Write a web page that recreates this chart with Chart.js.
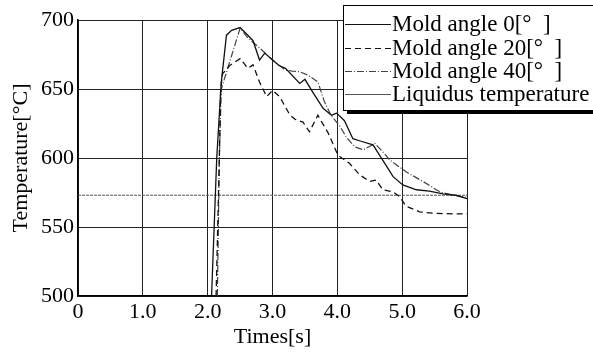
<!DOCTYPE html>
<html>
<head>
<meta charset="utf-8">
<script src="https://cdn.jsdelivr.net/npm/chart.js@4.4.0/dist/chart.umd.min.js"></script>
<style>
  html, body { margin: 0; padding: 0; background: #fff; }
  #wrap { width: 593px; height: 354px; }
</style>
</head>
<body>
<div id="wrap"><canvas id="c" width="593" height="354"></canvas></div>
<script>
// temperature traces: time [s] / temperature [°C]
const time0 = [2.06, 2.14, 2.21, 2.29, 2.37, 2.5, 2.62, 2.7, 2.8, 2.88, 3.0, 3.1, 3.2, 3.42, 3.5, 3.63, 3.78, 3.91, 3.99, 4.11, 4.24, 4.34, 4.55, 4.7, 4.86, 5.01, 5.22, 5.42, 5.63, 5.83, 6.0];
const temp0 = [500, 600, 655, 689, 692.5, 694.5, 689, 685, 671, 676, 671, 667, 665, 654, 657, 647, 636, 631, 632.5, 627, 614, 612.5, 609.5, 598.5, 586.5, 580.5, 577, 576, 574, 573, 570.5];

const time20 = [2.13, 2.18, 2.2, 2.23, 2.34, 2.5, 2.62, 2.7, 2.8, 2.91, 3.0, 3.11, 3.27, 3.35, 3.47, 3.57, 3.7, 3.76, 3.86, 4.01, 4.19, 4.34, 4.5, 4.6, 4.7, 4.86, 4.96, 5.06, 5.27, 5.47, 5.78, 6.0];
const temp20 = [500, 600, 650, 661, 667, 672, 665, 667.5, 655, 644.5, 649, 644.5, 631, 628, 626, 619, 631, 626, 618, 602, 596, 588, 583, 584, 577, 575.5, 572, 565, 561, 560, 559.5, 559.5];

const time40 = [2.15, 2.18, 2.21, 2.5, 2.62, 2.77, 2.91, 3.03, 3.19, 3.3, 3.42, 3.55, 3.7, 3.8, 3.9, 4.04, 4.14, 4.27, 4.4, 4.58, 4.7, 4.81, 5.06, 5.32, 5.58, 5.78, 6.0];
const temp40 = [500, 600, 650, 694, 687, 681, 675, 670, 664, 663, 662.5, 660, 655, 641, 631, 623, 615, 608, 606, 610.5, 604.5, 598.5, 590, 583, 575.5, 573, 571.5];

const liquidusTime = [0, 6];
const liquidusTemp = [573, 573];

const labels = ["Mold angle 0[°\u2002]", "Mold angle 20[°\u2002]", "Mold angle 40[°\u2002]", "Liquidus temperature"];

const xy = (ts, vs) => ts.map((t, i) => ({ x: t, y: vs[i] }));
const SERIF = "'Liberation Serif', 'Times New Roman', serif";

// legend box sits over the top-right of the plot, with a heavy drop shadow
const overlayLegend = {
  id: "overlayLegend",
  afterDraw(chart) {
    const ctx = chart.ctx;
    const bx = 343, by = 5, bw = 262, bh = 105;
    ctx.save();
    ctx.fillStyle = "#000";
    ctx.fillRect(bx + 4, by + bh, bw, 4);
    ctx.fillStyle = "#fff";
    ctx.fillRect(bx, by, bw, bh);
    ctx.strokeStyle = "#000";
    ctx.lineWidth = 1;
    ctx.strokeRect(bx + 0.5, by + 0.5, bw, bh);
    const rows = [24, 48, 71, 94];
    ctx.font = "23px " + SERIF;
    ctx.textBaseline = "middle";
    chart.data.datasets.forEach((ds, i) => {
      const y = rows[i] + 0.5;
      ctx.strokeStyle = ds.borderColor;
      ctx.lineWidth = 1.2;
      ctx.setLineDash(i === 3 ? [] : (ds.borderDash || []));
      ctx.beginPath();
      ctx.moveTo(345, y);
      ctx.lineTo(391, y);
      ctx.stroke();
      ctx.setLineDash([]);
      ctx.fillStyle = "#000";
      ctx.fillText(ds.label, 392, rows[i] + 1);
    });
    ctx.restore();
  }
};

new Chart(document.getElementById("c"), {
  type: "line",
  data: {
    datasets: [
      { label: labels[0], data: xy(time0, temp0), borderColor: "#111", borderWidth: 1.3 },
      { label: labels[1], data: xy(time20, temp20), borderColor: "#111", borderWidth: 1.3, borderDash: [6, 4] },
      { label: labels[2], data: xy(time40, temp40), borderColor: "#444", borderWidth: 1.2, borderDash: [7, 2, 1, 2] },
      { label: labels[3], data: xy(liquidusTime, liquidusTemp), borderColor: "#555", borderWidth: 1, borderDash: [3, 1] },
    ],
  },
  options: {
    responsive: false,
    animation: false,
    layout: { padding: { top: 20, right: 126, left: 0, bottom: 0 } },
    elements: { point: { radius: 0 }, line: { tension: 0, fill: false } },
    scales: {
      x: {
        type: "linear", min: 0, max: 6,
        afterFit: (s) => { s.height = 58; },
        ticks: {
          stepSize: 1, color: "#000", padding: 3, maxRotation: 0,
          font: { family: SERIF, size: 22 },
          callback: (v) => (v === 0 ? "0" : v.toFixed(1)),
        },
        grid: { color: "#222", lineWidth: 1, drawTicks: false },
        border: { color: "#000", width: 1.5 },
        title: { display: true, text: "Times[s]", color: "#000", font: { family: SERIF, size: 22 }, padding: { top: 0, bottom: 4 } },
      },
      y: {
        min: 500, max: 700,
        afterFit: (s) => { s.width = 78; },
        ticks: { stepSize: 50, color: "#000", padding: 4, font: { family: SERIF, size: 22 } },
        grid: { color: "#222", lineWidth: 1, drawTicks: false },
        border: { color: "#000", width: 1.5 },
        title: { display: true, text: "Temperature[°C]", color: "#000", font: { family: SERIF, size: 22 }, padding: { top: 8, bottom: 0 } },
      },
    },
    plugins: { legend: { display: false }, tooltip: { enabled: false } },
  },
  plugins: [overlayLegend],
});
</script>
</body>
</html>
